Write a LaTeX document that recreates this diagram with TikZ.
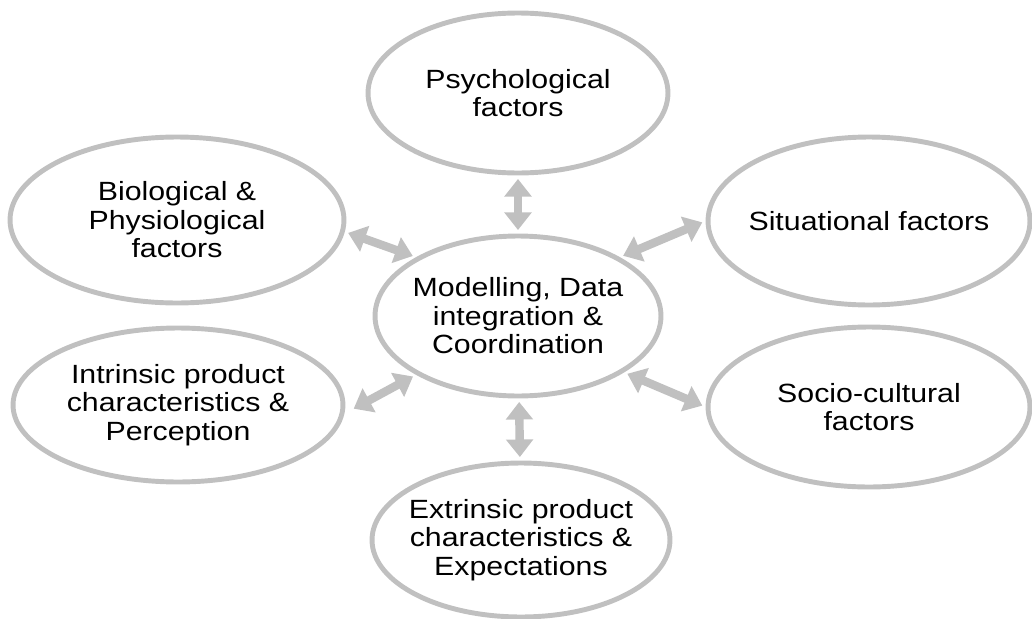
\documentclass[tikz,border=0pt]{standalone}
\usepackage{fontspec}
\setmainfont[FakeStretch=1.15]{Liberation Sans}
\usetikzlibrary{shapes.geometric}
\usetikzlibrary{arrows.meta}
\definecolor{ringgray}{HTML}{C0C0C0}
\tikzset{
	factor/.style={ellipse, draw=ringgray, line width=2.8pt, inner sep=-8pt, align=center,
		font=\fontsize{15}{16.2}\selectfont},
	link/.style={{Triangle[width=15pt,length=10pt]}-{Triangle[width=15pt,length=10pt]},
		draw=ringgray, line width=4.8pt, shorten <=2pt, shorten >=2pt}
}

\begin{document}
\begin{tikzpicture}[x=0.02cm,y=-0.02cm]
		\useasboundingbox (0,0) rectangle (1032,619);
		\node[factor, minimum width=5.72cm, minimum height=3.2cm] (centre) at (518,316) {Modelling, Data\\integration \&\\Coordination};
		\node[factor, minimum width=6cm, minimum height=3.2cm] (psych) at (518,93) {Psychological\\factors};
		\node[factor, minimum width=6.68cm, minimum height=3.32cm] (bio) at (177,220) {Biological \&\\Physiological\\factors};
		\node[factor, minimum width=6.44cm, minimum height=3.36cm] (sit) at (869,221) {Situational factors};
		\node[factor, minimum width=6.6cm, minimum height=3.08cm] (intr) at (178,405) {Intrinsic product\\characteristics \&\\Perception};
		\node[factor, minimum width=6.44cm, minimum height=3.2cm] (soc) at (869,407) {Socio-cultural\\factors};
		\node[factor, minimum width=5.96cm, minimum height=3.08cm] (ext) at (521,540) {Extrinsic product\\characteristics \&\\Expectations};
		\draw[link] (psych) -- (centre);
		\draw[link] (centre) -- (ext);
		\draw[link] (bio.-4) -- (centre.150);
		\draw[link, shorten <=6pt] (intr.-3) -- (centre.210);
		\draw[link] (sit.west) -- (centre.30);
		\draw[link] (soc.west) -- (centre.-28);
	\end{tikzpicture}
\end{document}
